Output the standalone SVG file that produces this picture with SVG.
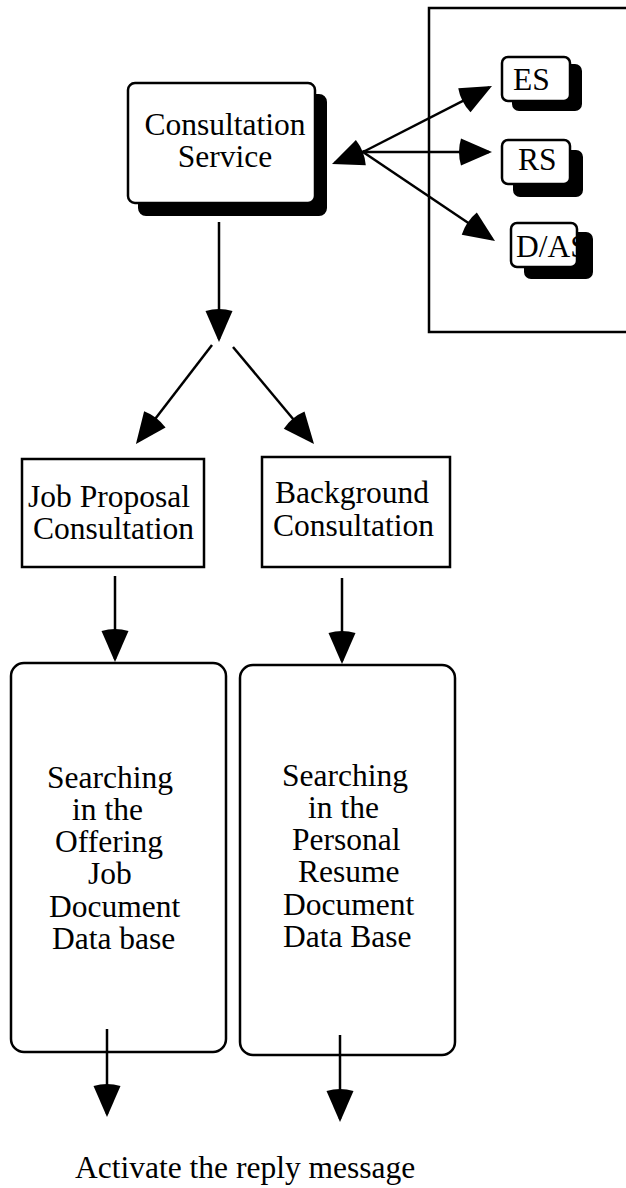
<svg xmlns="http://www.w3.org/2000/svg" width="626" height="1188" viewBox="0 0 626 1188">
<style>
.box{fill:#fff;stroke:#000;stroke-width:2.5}
.shadow{fill:#000;stroke:#000;stroke-width:2}
.frame{fill:none;stroke:#000;stroke-width:2.5}
.t{font-family:"Liberation Serif","Times New Roman",serif;font-size:31.5px;fill:#000}
.m{text-anchor:middle}
.c line{stroke:#000;stroke-width:2.5;marker-end:url(#ah)}
</style>
<defs>
<marker id="ah" markerUnits="userSpaceOnUse" orient="auto" viewBox="-4 0 36 28" refX="28" refY="14" markerWidth="36" markerHeight="28">
<path d="M31,14 L0,0.5 Q-4,14 0,27.5 Z" fill="#000"/>
</marker>
</defs>
<rect width="626" height="1188" fill="#fff"/>

<g id="subsystems">
<rect class="frame" x="429" y="8" width="220" height="324"/>
</g>

<g id="consultation-service">
<rect class="shadow" x="139" y="95" width="187" height="120" rx="7"/>
<rect class="box" x="128" y="83" width="187" height="120" rx="7"/>
<text class="t m" x="225" y="135">Consultation</text>
<text class="t m" x="225" y="167">Service</text>
</g>

<g id="es">
<rect class="shadow" x="513" y="65" width="68" height="45" rx="6"/>
<rect class="box" x="502" y="57" width="68" height="44" rx="6"/>
<text class="t" x="513" y="90">ES</text>
</g>

<g id="rs">
<rect class="shadow" x="514" y="151" width="68" height="45" rx="6"/>
<rect class="box" x="502" y="140" width="68" height="44" rx="6"/>
<text class="t" x="518" y="170">RS</text>
</g>

<g id="das">
<rect class="shadow" x="525" y="233" width="67" height="45" rx="6"/>
<rect class="box" x="511" y="223" width="66" height="44" rx="6"/>
<text class="t" x="516" y="257">D/AS</text>
</g>

<g id="job-proposal">
<rect class="box" x="22" y="459" width="182" height="108"/>
<text class="t" x="28" y="507">Job Proposal</text>
<text class="t" x="33" y="539">Consultation</text>
</g>

<g id="background">
<rect class="box" x="262" y="457" width="188" height="110"/>
<text class="t" x="275" y="503">Background</text>
<text class="t" x="273" y="536">Consultation</text>
</g>

<g id="search-job">
<rect class="box" x="11" y="663" width="215" height="389" rx="13"/>
<text class="t" x="47" y="788">Searching</text>
<text class="t" x="72" y="820">in the</text>
<text class="t" x="55" y="852">Offering</text>
<text class="t" x="88" y="884">Job</text>
<text class="t" x="49" y="917">Document</text>
<text class="t" x="52" y="949">Data base</text>
</g>

<g id="search-resume">
<rect class="box" x="240" y="665" width="215" height="390" rx="13"/>
<text class="t" x="282" y="786">Searching</text>
<text class="t" x="308" y="818">in the</text>
<text class="t" x="292" y="850">Personal</text>
<text class="t" x="298" y="882">Resume</text>
<text class="t" x="283" y="915">Document</text>
<text class="t" x="283" y="947">Data Base</text>
</g>

<g id="reply">
<text class="t" x="75" y="1178">Activate the reply message</text>
</g>

<g id="connectors" class="c">
<line x1="219" y1="222" x2="219" y2="339"/>
<line x1="212" y1="345" x2="137.8" y2="441.6"/>
<line x1="233" y1="347" x2="312.1" y2="441.7"/>
<line x1="115" y1="576" x2="115" y2="659"/>
<line x1="342" y1="578" x2="342" y2="661"/>
<line x1="107" y1="1029" x2="107" y2="1114"/>
<line x1="340" y1="1035" x2="340" y2="1119"/>
<line x1="363" y1="152" x2="489.3" y2="87.4"/>
<line x1="363" y1="152" x2="489" y2="152"/>
<line x1="363" y1="152" x2="492.5" y2="239.3"/>
<line x1="365" y1="151" x2="334.8" y2="162.9"/>
</g>
</svg>
